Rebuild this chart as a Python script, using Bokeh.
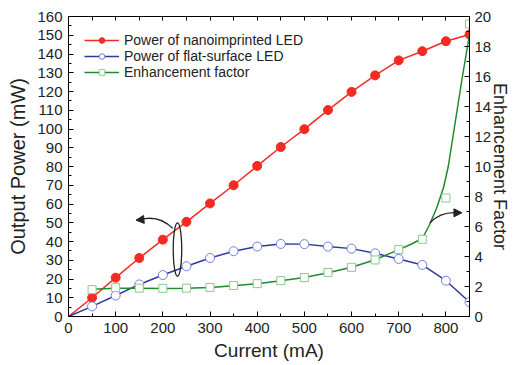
from bokeh.plotting import figure
from bokeh.models import (Range1d, LinearAxis, FixedTicker, Arrow, NormalHead,
                          Legend, LegendItem)
from bokeh.embed import file_html
from bokeh.resources import INLINE

# ---------------- data ----------------
current = [0, 50, 100, 150, 200, 250, 300, 350, 400, 450, 500, 550, 600, 650, 700, 750, 800, 850]
power_nano = [0, 10.0, 20.7, 31.2, 41.0, 50.5, 60.3, 70.0, 80.3, 90.4, 99.9, 110.1, 119.8, 128.6, 136.6, 141.5, 146.8, 150.4]
power_flat = [0, 5.4, 11.2, 17.1, 22.1, 26.8, 31.2, 34.8, 37.3, 38.7, 38.6, 37.3, 36.2, 33.7, 30.7, 27.5, 19.1, 7.7]

enh_current = [50, 100, 150, 200, 250, 300, 350, 400, 450, 500, 550, 600, 650, 700, 750, 800, 850]
enh_factor = [1.79, 1.92, 1.89, 1.88, 1.89, 1.94, 2.07, 2.19, 2.39, 2.59, 2.94, 3.28, 3.77, 4.46, 5.15, 7.9, 19.5]

# smooth fitted curve of the enhancement factor
fit_current = [50, 100, 150, 200, 250, 300, 350, 400, 450, 500, 550, 600, 650, 700, 725, 750,
               765, 780, 795, 805, 815, 825, 835, 850]
fit_factor = [1.82, 1.88, 1.88, 1.87, 1.88, 1.93, 2.05, 2.19, 2.38, 2.60, 2.92, 3.28, 3.78, 4.46,
              4.80, 5.20, 6.10, 7.20, 8.60, 10.0, 12.0, 14.0, 16.0, 18.8]

x_ticks = [0, 100, 200, 300, 400, 500, 600, 700, 800]
y_ticks = list(range(0, 161, 10))
enh_ticks = list(range(0, 21, 2))
x_minor = list(range(0, 851, 50))
y_minor = list(range(0, 161, 5))
enh_minor = list(range(0, 21, 1))

# annotation geometry (data units)
ell_x, ell_y, ell_w, ell_h = 231, 35.7, 18, 28.5
left_arrow = dict(x0=221, y0=47.0, cx=190, cy=54.5, x1=152, y1=51.6, hx=143, hy=51.4)
right_arrow = dict(x0=766, y0=50.0, cx=790, cy=56.0, x1=824, y1=55.3, hx=834, hy=55.3)

RED = "#f52a22"
BLUE_LINE = "#2b3a9e"
BLUE_MK = "#6f7fe0"
GREEN_LINE = "#1e8a2e"
GREEN_MK = "#8cc88c"
FONT = "Liberation Sans"
TXT = "#222222"

p = figure(width=515, height=364, output_backend="svg", toolbar_location=None,
           x_range=Range1d(0, 850), y_range=Range1d(0, 160),
           min_border_left=68, min_border_right=46, min_border_top=16, min_border_bottom=48)
p.extra_y_ranges = {"enh": Range1d(0, 20)}
p.grid.visible = False
p.outline_line_color = "black"
p.outline_line_width = 1
p.background_fill_color = "white"
p.border_fill_color = "white"


def style_axis(ax, ticks, minor, label_size):
    ax.ticker = FixedTicker(ticks=ticks, minor_ticks=minor)
    ax.major_tick_in = 5
    ax.major_tick_out = 0
    ax.minor_tick_in = 3
    ax.minor_tick_out = 0
    ax.axis_line_color = "black"
    ax.major_tick_line_color = "black"
    ax.minor_tick_line_color = "black"
    ax.major_label_text_font = FONT
    ax.major_label_text_font_size = "15px"
    ax.major_label_text_color = TXT
    ax.axis_label_text_font = FONT
    ax.axis_label_text_font_size = label_size
    ax.axis_label_text_font_style = "normal"
    ax.axis_label_text_color = TXT


xa = p.xaxis[0]
style_axis(xa, x_ticks, x_minor, "19px")
xa.axis_label = "Current (mA)"
xa.major_label_standoff = 6
xa.axis_label_standoff = 4

ya = p.yaxis[0]
style_axis(ya, y_ticks, y_minor, "20px")
ya.axis_label = "Output Power (mW)"
ya.major_label_standoff = 6
ya.axis_label_standoff = 5

ra = LinearAxis(y_range_name="enh")
style_axis(ra, enh_ticks, enh_minor, "18px")
ra.axis_label = "Enhancement Factor"
ra.major_label_standoff = 5
ra.axis_label_standoff = -4
p.add_layout(ra, "right")

# mirrored ticks on the top edge (minor ticks only, so no labels are made)
ta = LinearAxis()
ta.ticker = FixedTicker(ticks=[], minor_ticks=x_minor)
ta.major_tick_in = 0
ta.major_tick_out = 0
ta.minor_tick_in = 4
ta.minor_tick_out = 0
ta.minor_tick_line_color = "black"
ta.axis_line_color = "black"
ta.major_label_standoff = 0
p.add_layout(ta, "above")

# --------------- series ---------------
r_line = p.line(current, power_nano, line_color=RED, line_width=1.5)
r_mk = p.scatter(current[1:], power_nano[1:], marker="circle", size=9,
                 fill_color=RED, line_color=RED)

b_line = p.line(current, power_flat, line_color=BLUE_LINE, line_width=1.5)
b_mk = p.scatter(current[1:], power_flat[1:], marker="circle", size=9,
                 fill_color="white", line_color=BLUE_MK, line_width=1)

g_line = p.line(fit_current, fit_factor, line_color=GREEN_LINE, line_width=1.5, y_range_name="enh")
g_mk = p.scatter(enh_current, enh_factor, marker="square", size=8, fill_color="white",
                 line_color=GREEN_MK, line_width=1, y_range_name="enh")

# --------------- annotations ---------------
p.ellipse(x=[ell_x], y=[ell_y], width=ell_w, height=ell_h, fill_color=None,
          line_color=TXT, line_width=1.3)

for a in (left_arrow, right_arrow):
    p.quadratic(x0=[a["x0"]], y0=[a["y0"]], cx=[a["cx"]], cy=[a["cy"]], x1=[a["x1"]], y1=[a["y1"]],
                line_color=TXT, line_width=1.3)
    p.add_layout(Arrow(end=NormalHead(size=8, fill_color=TXT, line_color=TXT),
                       x_start=a["x1"], y_start=a["y1"], x_end=a["hx"], y_end=a["hy"],
                       line_color=TXT, line_width=1.3))

# --------------- legend ---------------
legend = Legend(items=[
    LegendItem(label="Power of nanoimprinted LED", renderers=[r_line, r_mk]),
    LegendItem(label="Power of flat-surface LED", renderers=[b_line, b_mk]),
    LegendItem(label="Enhancement factor", renderers=[g_line, g_mk]),
], location="top_left")
legend.border_line_color = None
legend.background_fill_alpha = 0
legend.label_text_font = FONT
legend.label_text_font_size = "14px"
legend.label_text_color = TXT
legend.glyph_width = 35
legend.glyph_height = 14
legend.label_height = 14
legend.label_standoff = 5
legend.spacing = 0
legend.margin = 16
legend.padding = 8
p.add_layout(legend, "center")

open("out.html", "w").write(file_html(p, INLINE))
